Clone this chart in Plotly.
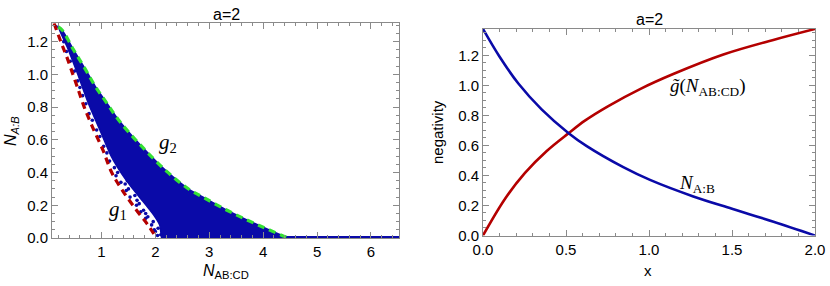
import plotly.graph_objects as go

W, H = 830, 286

# ---------------- left panel data ----------------
# g2 (green dashed upper bound)
g2_x = [0.20, 0.273, 0.477, 0.694, 0.879, 1.096, 1.31, 1.714, 2.21, 2.64, 2.92, 3.29, 3.63, 4.0, 4.34, 4.47]
g2_y = [1.29, 1.27, 1.153, 1.035, 0.93, 0.826, 0.724, 0.571, 0.407, 0.294, 0.243, 0.176, 0.121, 0.066, 0.017, 0.0]
# g1 (red dashed lower bound)
g1_x = [0.12, 0.28, 0.336, 0.47, 0.588, 0.68, 0.83, 1.03, 1.19, 1.40, 1.65, 1.85, 2.02]
g1_y = [1.312, 1.17, 1.125, 1.0, 0.888, 0.80, 0.68, 0.535, 0.40, 0.285, 0.170, 0.085, 0.0]
# dense part of the sampled cloud: left/lower edge (upper edge follows g2)
cloud_edge_x = [0.20, 0.36, 0.56, 0.76, 0.97, 1.18, 1.38, 1.58, 1.78, 1.97, 2.08, 2.14]
cloud_edge_y = [1.29, 1.17, 1.00, 0.82, 0.66, 0.50, 0.39, 0.30, 0.22, 0.14, 0.08, 0.0]
# scattered samples between g1 and the dense cloud
sparse_x = [0.16, 0.30, 0.35, 0.42, 0.50, 0.56, 0.60, 0.65, 0.71, 0.77, 0.83, 0.91, 0.97, 1.04, 1.10,
            1.15, 1.24, 1.27, 1.30, 1.36, 1.44, 1.46, 1.50, 1.53, 1.62, 1.65, 1.70, 1.73, 1.78, 1.82,
            1.86, 1.93, 1.96, 2.00, 2.05, 2.04, 2.10, 1.66, 1.48, 1.82, 1.98]
sparse_y = [1.29, 1.20, 1.14, 1.08, 1.02, 0.96, 0.92, 0.87, 0.82, 0.76, 0.72, 0.66, 0.62, 0.56, 0.52,
            0.47, 0.43, 0.38, 0.40, 0.34, 0.33, 0.29, 0.30, 0.25, 0.26, 0.20, 0.21, 0.16, 0.17, 0.12,
            0.13, 0.08, 0.10, 0.04, 0.06, 0.015, 0.02, 0.23, 0.35, 0.15, 0.05]
# separable samples lying on N_A:B = 0
zero_x = [2.10, 6.52]
zero_y = [0.0, 0.0]

# ---------------- right panel data ----------------
nab_x = [0, 0.1, 0.213, 0.353, 0.514, 0.625, 0.845, 1.006, 1.267, 1.5, 1.75, 2.0]
nab_y = [1.375, 1.19, 1.012, 0.84, 0.683, 0.595, 0.455, 0.37, 0.26, 0.178, 0.092, 0.0]
gt_x = [0, 0.133, 0.253, 0.384, 0.514, 0.614, 0.755, 0.946, 1.146, 1.448, 1.749, 2.0]
gt_y = [0, 0.245, 0.417, 0.563, 0.68, 0.765, 0.862, 0.975, 1.075, 1.205, 1.302, 1.375]

BLUE = "#0a0aa8"
RED = "#b40000"
GREEN = "#33e033"
FRAME = "#8a8a8a"
SANS = "Liberation Sans, Arial, sans-serif"
SERIF = "Liberation Serif, Times New Roman, serif"

fig = go.Figure()

# dense cloud polygon: along g2 then back along the edge
poly_x = g2_x + cloud_edge_x[::-1]
poly_y = g2_y + cloud_edge_y[::-1]
fig.add_trace(go.Scatter(x=poly_x, y=poly_y, mode="lines", fill="toself", fillcolor=BLUE,
                         line=dict(width=1.5, color=BLUE, shape="spline", smoothing=0.6),
                         xaxis="x", yaxis="y", hoverinfo="skip", showlegend=False))
fig.add_trace(go.Scatter(x=sparse_x, y=sparse_y, mode="markers",
                         marker=dict(size=3.6, color=BLUE), xaxis="x", yaxis="y", showlegend=False))
fig.add_trace(go.Scatter(x=zero_x, y=zero_y, mode="lines", line=dict(width=4, color=BLUE),
                         xaxis="x", yaxis="y", showlegend=False, cliponaxis=False))
fig.add_trace(go.Scatter(x=g1_x, y=g1_y, mode="lines",
                         line=dict(width=3.2, color=RED, dash="7px,5px", shape="spline"),
                         xaxis="x", yaxis="y", showlegend=False))
fig.add_trace(go.Scatter(x=g2_x, y=g2_y, mode="lines",
                         line=dict(width=3.2, color=GREEN, dash="7px,5px", shape="spline"),
                         xaxis="x", yaxis="y", showlegend=False))

fig.add_trace(go.Scatter(x=gt_x, y=gt_y, mode="lines", line=dict(width=2.6, color=RED, shape="spline"),
                         xaxis="x2", yaxis="y2", showlegend=False))
fig.add_trace(go.Scatter(x=nab_x, y=nab_y, mode="lines", line=dict(width=2.6, color=BLUE, shape="spline"),
                         xaxis="x2", yaxis="y2", showlegend=False))

def axis(domain, rng, dtick, minor, anchor, fmt):
    return dict(domain=domain, range=rng, dtick=dtick, tick0=0, tickformat=fmt,
                ticks="inside", ticklen=6, tickwidth=1, tickcolor=FRAME,
                minor=dict(dtick=minor, ticks="inside", ticklen=3, tickcolor=FRAME, showgrid=False),
                showline=True, linecolor=FRAME, linewidth=1, mirror="allticks",
                showgrid=False, zeroline=False, anchor=anchor, automargin=False,
                tickfont=dict(family=SANS, size=15, color="black"))

def px(x):
    return x / W

def py(y):
    return 1 - y / H

fig.update_layout(
    template="none",
    width=W, height=H, margin=dict(l=0, r=0, t=0, b=0, pad=0, autoexpand=False),
    paper_bgcolor="white", plot_bgcolor="white",
    xaxis=axis([px(52), px(399)], [0.082, 6.52], 1, 0.2, "y", "d"),
    yaxis=axis([py(238), py(23.3)], [0, 1.312], 0.2, 0.05, "x", ".1f"),
    xaxis2=axis([px(483), px(815)], [0, 2.0], 0.5, 0.1, "y2", ".1f"),
    yaxis2=axis([py(235.5), py(29)], [0, 1.375], 0.2, 0.05, "x2", ".1f"),
)

def A(text, x, y, xref="paper", yref="paper", size=16, family=SANS, angle=0):
    return dict(text=text, x=x, y=y, xref=xref, yref=yref, showarrow=False,
                xanchor="center", yanchor="middle", textangle=angle,
                font=dict(family=family, size=size, color="black"))

ann = [
    A("a=2", px(226), py(14.5)),
    A("a=2", px(649), py(19)),
    A("<i>N</i><sub><i>A:B</i></sub>", px(11), py(131), angle=-90),
    A("<i>N</i><sub>AB:CD</sub>", px(226), py(271)),
    A("negativity", px(437), py(132), size=15, angle=-90),
    A("x", px(648), py(270), size=15),
    A("<i>g</i><sub>2</sub>", 2.23, 0.58, "x", "y", 21, SERIF),
    A("<i>g</i><sub>1</sub>", 1.31, 0.17, "x", "y", 21, SERIF),
    A("<i>g\u0303</i>(<i>N</i><sub>AB:CD</sub>)", 1.355, 0.99, "x2", "y2", 19, SERIF),
    A("<i>N</i><sub>A:B</sub>", 1.29, 0.34, "x2", "y2", 19, SERIF),
]
fig.update_layout(annotations=ann)

fig.write_html("out.html", config={"displayModeBar": False},
               post_script="document.body.style.margin='0';")
